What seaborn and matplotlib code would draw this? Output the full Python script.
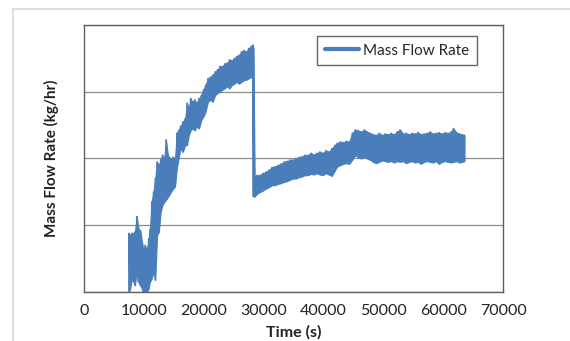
import matplotlib
matplotlib.use('Agg')
from matplotlib import pyplot as plt
from matplotlib.lines import Line2D
import pandas as pd
import seaborn as sns

# Envelope of the noisy mass flow signal (y in gridline units)
time_s = [7500, 7700, 8000, 8500, 8800, 9100, 9400, 9900, 10200, 10500,
          10800, 11000, 11300, 11600, 11900, 12200, 12500, 12800, 13100, 13400,
          13700, 14000, 14400, 14900, 15200, 15500, 15800, 16100, 16500, 16900,
          17200, 17500, 17800, 18100, 18500, 18800, 19200, 19600, 19950, 20300,
          20700, 21100, 21500, 21900, 22300, 22700, 23100, 23500, 23900, 24300,
          24700, 25100, 25500, 25900, 26300, 26700, 27100, 27500, 27900, 28200,
          28300, 28500, 28900, 29400, 29900, 30400, 30900, 31400, 31900, 32400,
          32900, 33400, 33900, 34400, 34900, 35400, 35900, 36400, 36900, 37400,
          37900, 38400, 38900, 39400, 39900, 40400, 40900, 41400, 41900, 42300,
          42800, 43300, 43800, 44300, 44800, 45300, 45800, 46300, 46800, 47300,
          47800, 48300, 48800, 49300, 49800, 50300, 50800, 51300, 51800, 52300,
          52800, 53300, 53800, 54300, 54800, 55300, 55800, 56300, 56800, 57300,
          57800, 58300, 58800, 59300, 59800, 60300, 60800, 61300, 61700, 62200,
          62700, 63200, 63550]
flow_low = [0.0, 0.05, 0.2, 0.1, 0.3, 0.15, 0.1, 0.0, 0.0, 0.0,
            0.05, 0.15, 0.2, 0.3, 0.18, 0.85, 0.9, 1.2, 1.3, 1.35,
            1.38, 1.42, 1.48, 1.55, 1.58, 1.85, 2.0, 2.15, 2.1, 2.2,
            2.2, 2.35, 2.42, 2.45, 2.42, 2.48, 2.45, 2.58, 2.63, 2.7,
            2.85, 2.88, 2.85, 2.95, 2.98, 3.0, 3.03, 3.05, 3.08, 3.05,
            3.1, 3.12, 3.15, 3.12, 3.15, 3.17, 3.18, 3.2, 3.22, 3.2,
            1.43, 1.43, 1.47, 1.5, 1.52, 1.55, 1.57, 1.6, 1.6, 1.62,
            1.63, 1.65, 1.66, 1.68, 1.7, 1.7, 1.72, 1.73, 1.75, 1.75,
            1.77, 1.76, 1.78, 1.76, 1.75, 1.78, 1.76, 1.74, 1.82, 1.88,
            1.9, 1.92, 1.93, 1.92, 1.98, 2.05, 2.02, 2.0, 2.02, 2.0,
            1.98, 1.95, 1.93, 1.95, 1.97, 1.96, 1.95, 1.96, 1.94, 1.96,
            1.95, 1.96, 1.93, 1.95, 1.96, 1.94, 1.95, 1.92, 1.95, 1.96,
            1.95, 1.94, 1.96, 1.92, 1.95, 1.96, 1.95, 1.94, 1.95, 1.96,
            1.94, 1.95, 1.96]
flow_high = [0.88, 0.85, 0.88, 0.9, 1.13, 0.95, 0.92, 0.63, 0.7, 0.63,
             0.8, 0.93, 1.35, 1.5, 1.7, 1.95, 1.9, 1.98, 2.05, 2.0,
             2.28, 2.05, 2.0, 2.02, 2.0, 2.38, 2.42, 2.48, 2.55, 2.6,
             2.83, 2.75, 2.9, 2.85, 2.88, 2.83, 2.9, 2.95, 3.03, 3.1,
             3.2, 3.22, 3.25, 3.3, 3.33, 3.38, 3.38, 3.42, 3.43, 3.48,
             3.47, 3.5, 3.53, 3.55, 3.6, 3.62, 3.6, 3.65, 3.68, 3.7,
             3.65, 1.72, 1.75, 1.75, 1.78, 1.8, 1.83, 1.87, 1.88, 1.9,
             1.92, 1.95, 1.96, 1.98, 1.98, 2.0, 2.02, 2.03, 2.05, 2.05,
             2.08, 2.06, 2.08, 2.1, 2.08, 2.12, 2.1, 2.15, 2.2, 2.23,
             2.25, 2.24, 2.26, 2.25, 2.38, 2.43, 2.42, 2.4, 2.43, 2.4,
             2.38, 2.36, 2.35, 2.38, 2.35, 2.37, 2.36, 2.38, 2.36, 2.4,
             2.43, 2.37, 2.38, 2.36, 2.38, 2.37, 2.39, 2.36, 2.37, 2.38,
             2.4, 2.37, 2.38, 2.39, 2.37, 2.39, 2.38, 2.4, 2.45, 2.39,
             2.37, 2.36, 2.35]

x_ticks = [0, 10000, 20000, 30000, 40000, 50000, 60000, 70000]
y_grid = [0, 1, 2, 3, 4]

# zigzag between low and high gives the noisy look
rows = []
for t, lo, hi in zip(time_s, flow_low, flow_high):
    rows.append((t, lo))
    rows.append((t, hi))
df = pd.DataFrame(rows, columns=['Time', 'Flow'])

sns.set_style('white')
plt.rcParams['font.family'] = ['Lato', 'DejaVu Sans']

blue = '#4A7EBB'
fig = plt.figure(figsize=(5.7, 3.41), dpi=100)
ax = fig.add_axes([0.1474, 0.1437, 0.7351, 0.783])

ax.fill_between(time_s, flow_low, flow_high, color=blue, lw=0.8, edgecolor=blue)
sns.lineplot(data=df, x='Time', y='Flow', sort=False, estimator=None,
             color=blue, lw=1.1, ax=ax, label='Mass Flow Rate')

ax.set_xlim(0, 70000)
ax.set_ylim(0, 4)
ax.set_xticks(x_ticks)
ax.set_xticklabels([str(v) for v in x_ticks])
ax.set_yticks(y_grid)
ax.set_yticklabels([])
ax.grid(axis='y', color='#8c8c8c', lw=0.9)
ax.set_axisbelow(True)
for s in ax.spines.values():
    s.set_color('#5f5f5f')
    s.set_linewidth(1.0)
ax.tick_params(direction='in', length=4, color='#5f5f5f', labelsize=11.5,
               labelcolor='#222222', pad=9)

ax.set_xlabel('Time (s)', fontsize=11.5, fontweight='bold', color='#222222')
ax.set_ylabel('Mass Flow Rate (kg/hr)', fontsize=11, fontweight='bold', color='#222222')
ax.xaxis.set_label_coords(0.5, -0.125)
ax.yaxis.set_label_coords(-0.06, 0.5)

leg = ax.legend(loc='upper right', bbox_to_anchor=(0.938, 0.959), borderaxespad=0,
                fancybox=False, frameon=True, fontsize=11, handlelength=2.2,
                handletextpad=0.3, borderpad=0.5)
leg.get_frame().set_edgecolor('#404040')
leg.get_frame().set_linewidth(1.0)
for ln in leg.get_lines():
    ln.set_linewidth(3)

# light outer frame of the chart area
fig.add_artist(Line2D([0.0228, 0.0228], [0, 0.9736], color='#d9d9d9', lw=1.2))
fig.add_artist(Line2D([0.0228, 1.0], [0.9736, 0.9736], color='#d9d9d9', lw=1.2))

plt.savefig('out.png', dpi=100)
